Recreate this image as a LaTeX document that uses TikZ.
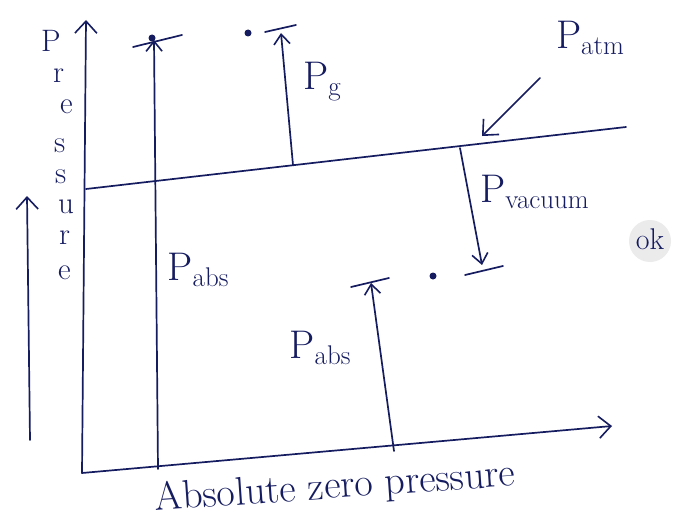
\documentclass[tikz,border=0pt]{standalone}
\usetikzlibrary{arrows.meta}
\definecolor{inkc}{RGB}{22,28,96}
\newcommand{\lowtext}[1]{{\fontsize{27}{29}\selectfont\raisebox{-6pt}{#1}}}
% place one glyph at a horizontal and downward offset from the node's base point
\newcommand{\putch}[3]{\makebox[0pt][l]{\hspace*{#1pt}\raisebox{-#2pt}[0pt][0pt]{#3}}}
\begin{document}
\begin{tikzpicture}[x=1pt,y=-1pt,
  pen/.style={draw=inkc,line width=1.7pt,line cap=round,line join=round},
  barb/.style={-{Straight Barb[length=12pt,width=22pt,line width=1.6pt]}},
  sbarb/.style={-{Straight Barb[length=10pt,width=16pt,line width=1.6pt]}},
  lbl/.style={text=inkc,inner sep=0pt,font=\fontsize{40}{42}\selectfont},
  dotmark/.style={circle,fill=inkc,inner sep=0pt,minimum size=7pt}]
\useasboundingbox (0,0) rectangle (693,519);
\fill[white] (0,0) rectangle (693,519);

% axes
\coordinate (O) at (82,473);
\coordinate (ytop) at (86,20);
\coordinate (xend) at (612,426);
\draw[pen,barb] (O) -- (ytop);
\draw[pen,barb] (O) -- (xend);

% atmospheric pressure line
\coordinate (atmL) at (86,189);
\coordinate (atmR) at (626,127);
\draw[pen] (atmL) -- (atmR);

% direction arrow beside the axis title
\coordinate (prB) at (30,440);
\coordinate (prT) at (27,196);
\draw[pen,barb] (prB) -- (prT);

% vertical axis title, one letter under the other
\node[text=inkc,inner sep=0pt,anchor=base west,font=\fontsize{31}{33}\selectfont]
  (ytitle) at (41,52) {%
  \putch{0}{0}{P}\putch{12}{31}{r}\putch{19}{62}{e}\putch{13}{101}{s}%
  \putch{14}{132}{s}\putch{17}{162}{u}\putch{18}{193}{r}\putch{17}{228}{e}\hspace*{30pt}};

% absolute pressure above atmosphere
\coordinate (p1b) at (158,469);
\coordinate (p1t) at (154,40);
\draw[pen,sbarb] (p1b) -- (p1t);
\coordinate (c1a) at (133,47);
\coordinate (c1b) at (182,35);
\draw[pen] (c1a) -- (c1b);
\node[dotmark] (d1) at (152,38) {};
\node[lbl] (pabs1) at (198,270) {P\lowtext{abs}};

% gauge pressure
\coordinate (pgb) at (293,165);
\coordinate (pgt) at (281,33);
\draw[pen,sbarb] (pgb) -- (pgt);
\coordinate (cga) at (265,32);
\coordinate (cgb) at (296,25);
\draw[pen] (cga) -- (cgb);
\node[dotmark] (d2) at (248,33) {};
\node[lbl] (pg) at (322,82) {P\lowtext{g}};

% atmospheric pressure label
\node[lbl] (patm) at (590,38) {P\lowtext{atm}};
\coordinate (patmA) at (540,78);
\coordinate (patmB) at (482,136);
\draw[pen,barb] (patmA) -- (patmB);

% vacuum pressure
\coordinate (pvt) at (460,148);
\coordinate (pvb) at (482,265);
\draw[pen,sbarb] (pvt) -- (pvb);
\coordinate (cva) at (465,275);
\coordinate (cvb) at (503,266);
\draw[pen] (cva) -- (cvb);
\node[dotmark] (d3) at (433,276) {};
\node[lbl,anchor=west] (pvac) at (480,192) {P\lowtext{vacuum}};

% absolute pressure below atmosphere
\coordinate (p2b) at (394,451);
\coordinate (p2t) at (371,283);
\draw[pen,sbarb] (p2b) -- (p2t);
\coordinate (c2a) at (351,287);
\coordinate (c2b) at (389,278);
\draw[pen] (c2a) -- (c2b);
\node[lbl] (pabs2) at (320,348) {P\lowtext{abs}};

% check mark in the margin
\fill[black!8] (650,241) circle (21pt);
\node[text=inkc,inner sep=0pt,font=\fontsize{30}{32}\selectfont] (ok) at (650,239) {ok};

% bottom axis caption
\node[lbl,rotate=4] (zero) at (335,488) {Absolute zero pressure};
\end{tikzpicture}
\end{document}
